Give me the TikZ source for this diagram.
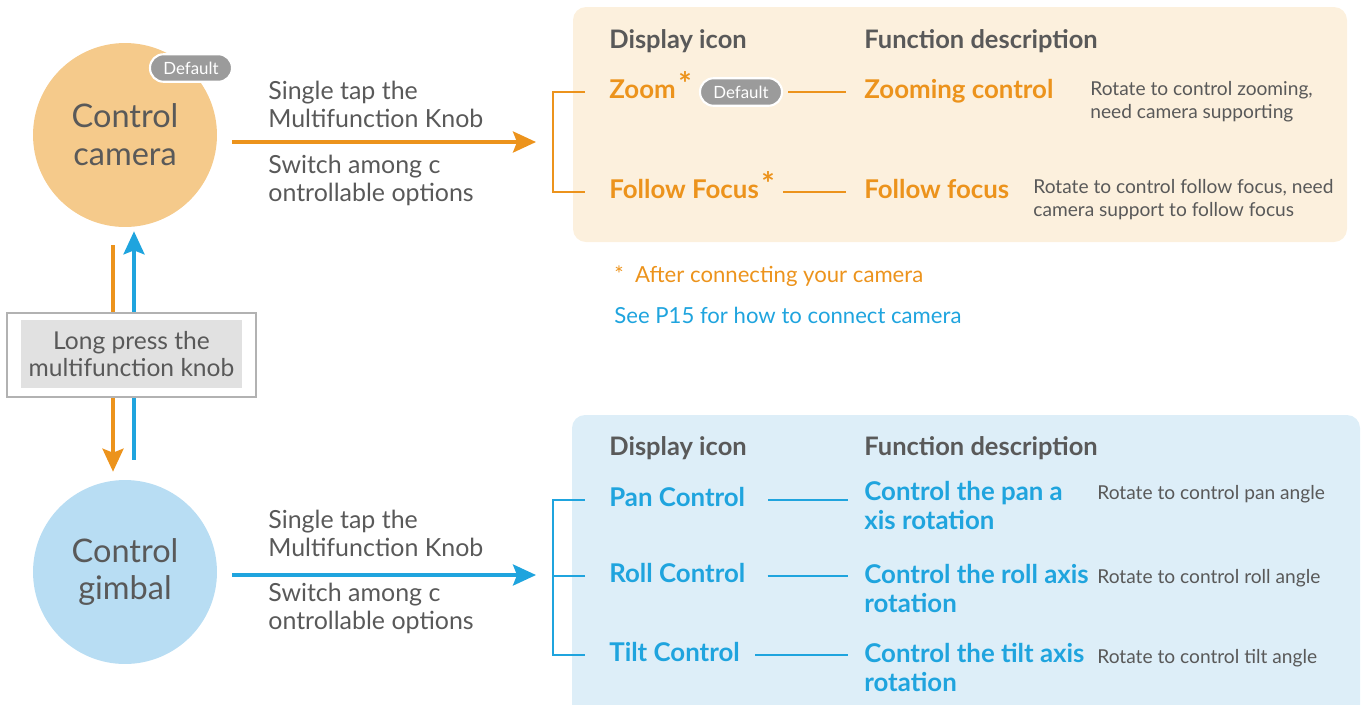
\documentclass[tikz,border=0pt]{standalone}
\usepackage{fontspec}
\setmainfont{Lato}
\usetikzlibrary{arrows.meta, positioning, calc}
\definecolor{KnobOrange}{HTML}{EC931C}
\definecolor{KnobBlue}{HTML}{1FA4DE}
\definecolor{CamFill}{HTML}{F5CA8B}
\definecolor{GimFill}{HTML}{B8DDF3}
\definecolor{CamPanel}{HTML}{FCF0DD}
\definecolor{GimPanel}{HTML}{DDEEF8}
\definecolor{TextGray}{HTML}{595959}
\definecolor{BadgeGray}{HTML}{9B9B9B}
\definecolor{PressGray}{HTML}{E1E1E1}
\definecolor{FrameGray}{HTML}{B2B2B2}

\tikzset{
  modecircle/.style={circle, minimum size=3.68cm, inner sep=0pt, text=TextGray, align=center,
    font=\fontsize{18.5}{21.5}\selectfont},
  badge/.style={rectangle, rounded corners=0.27cm, fill=BadgeGray, draw=white, line width=1.2pt,
    minimum width=1.64cm, minimum height=0.55cm, inner sep=0pt, text=white,
    font=\fontsize{9.6}{11}\selectfont},
  knobtxt/.style={anchor=west, inner sep=0pt, text=TextGray, align=left,
    font=\fontsize{14.2}{16}\selectfont},
  headtxt/.style={anchor=west, inner sep=0pt, text=TextGray, text height=10pt, text depth=3pt,
    font=\fontsize{14.5}{16}\selectfont\bfseries},
  itemtxt/.style={anchor=west, inner sep=0pt, align=left, font=\fontsize{14.7}{16.3}\selectfont\bfseries},
  itemone/.style={itemtxt, text height=10pt, text depth=3pt},
  desctxt/.style={anchor=west, inner sep=0pt, text=TextGray, align=left,
    font=\fontsize{10.9}{13}\selectfont},
  startxt/.style={inner sep=0pt, font=\fontsize{18}{18}\selectfont\bfseries},
  notetxt/.style={anchor=west, inner sep=0pt, font=\fontsize{12.6}{14}\selectfont},
  knobarrow/.style={line width=2pt, -{Stealth[length=0.46cm, width=0.42cm, inset=0.08cm]}},
  linkline/.style={line width=0.6pt},
  bracket/.style={line width=1.4pt}
}

\begin{document}
\begin{tikzpicture}[x=0.02cm, y=-0.02cm]
        \useasboundingbox (0,0) rectangle (1361,704);

        % Panels
        \fill [CamPanel, rounded corners=0.26cm] (573,7) rectangle (1347,242);
        \fill [GimPanel, rounded corners=0.26cm] (572,415) rectangle (1360,730);

        % Mode circles
        \node [modecircle, fill=CamFill] (cam) at (125,135) {Control\\camera};
        \node [modecircle, fill=GimFill] (gim) at (125,572) {Control\\gimbal};
        \node [badge] (camdef) at (191,68) {Default};

        % Long press between modes
        \draw [knobarrow, KnobOrange] ($(cam.south)+(-12,18)$) -- ($(gim.north)+(-12,-8)$);
        \draw [knobarrow, KnobBlue] ($(gim.north)+(9,-20)$) -- ($(cam.south)+(9,4)$);
        \node [draw=FrameGray, line width=1.5pt, fill=white, minimum width=4.98cm,
               minimum height=1.68cm] (pressframe) at (131.5,355) {};
        \node [fill=PressGray, minimum width=4.42cm, minimum height=1.36cm, inner sep=0pt,
               text=TextGray, align=center, font=\fontsize{14}{15.8}\selectfont] (press) at (131.5,354)
               {Long press the\\multifunction knob};

        % Single tap arrows
        \coordinate (camout) at (232,142);
        \coordinate (camin) at (536,142);
        \coordinate (gimout) at (232,575);
        \coordinate (gimin) at (536,575);
        \draw [knobarrow, KnobOrange] (camout) -- (camin);
        \draw [knobarrow, KnobBlue] (gimout) -- (gimin);
        \node [knobtxt] (camtap) at (268,104) {Single tap the\\Multifunction Knob};
        \node [knobtxt] (camswitch) at (268,180) {Switch among c\\ontrollable options};
        \node [knobtxt] (gimtap) at (268,533) {Single tap the\\Multifunction Knob};
        \node [knobtxt] (gimswitch) at (268,608) {Switch among c\\ontrollable options};

        % Camera options
        \node [headtxt] (camicon) at (609,42) {Display icon};
        \node [headtxt] (camfunc) at (864,42) {Function description};
        \node [itemone, KnobOrange] (zoom) at (609,92) {Zoom};
        \node [startxt, KnobOrange] (zoomstar) at (685,84) {*};
        \node [badge] (zoomdef) at (741,92) {Default};
        \node [itemone, KnobOrange] (zoomfn) at (864,92) {Zooming control};
        \node [desctxt] (zoomdesc) at (1090,102) {Rotate to control zooming,\\need camera supporting};
        \node [itemone, KnobOrange] (ffocus) at (609,192) {Follow Focus};
        \node [startxt, KnobOrange] (ffstar) at (768,184) {*};
        \node [itemone, KnobOrange] (ffocusfn) at (864,192) {Follow focus};
        \node [desctxt] (ffocusdesc) at (1033,200) {Rotate to control follow focus, need\\camera support to follow focus};
        \draw [linkline, KnobOrange, shorten <=0.1cm, shorten >=0.36cm] (zoomdef.east) -- (zoomdef.east -| zoomfn.west);
        \draw [linkline, KnobOrange, shorten <=0.16cm, shorten >=0.36cm] (ffocus.east -| ffstar.east) -- (ffocus.east -| ffocusfn.west);
        \draw [bracket, KnobOrange] ($(zoom.west)+(-24,0)$) -- ++(-32,0) |- ($(ffocus.west)+(-24,0)$);

        % Notes
        \node [notetxt, KnobOrange] (camnote) at (614,276) {*\ \ After connecting your camera};
        \node [notetxt, KnobBlue] (p15note) at (614,315) {See P15 for how to connect camera};

        % Gimbal options
        \node [headtxt] (gimicon) at (609,449) {Display icon};
        \node [headtxt] (gimfunc) at (864,449) {Function description};
        \node [itemone, KnobBlue] (pan) at (609,500) {Pan Control};
        \node [itemtxt, KnobBlue, anchor=north west] (panfn) at (864,481) {Control the pan a\\xis rotation};
        \node [desctxt] (pandesc) at (1097,494) {Rotate to control pan angle};
        \node [itemone, KnobBlue] (roll) at (609,576) {Roll Control};
        \node [itemtxt, KnobBlue, anchor=north west] (rollfn) at (864,564) {Control the roll axis\\rotation};
        \node [desctxt] (rolldesc) at (1097,578) {Rotate to control roll angle};
        \node [itemone, KnobBlue] (tilt) at (609,655) {Tilt Control};
        \node [itemtxt, KnobBlue, anchor=north west] (tiltfn) at (864,643) {Control the tilt axis\\rotation};
        \node [desctxt] (tiltdesc) at (1097,658) {Rotate to control tilt angle};
        \draw [linkline, KnobBlue, shorten <=0.46cm, shorten >=0.32cm] (pan.east) -- (pan.east -| panfn.west);
        \draw [linkline, KnobBlue, shorten <=0.44cm, shorten >=0.32cm] (roll.east) -- (roll.east -| rollfn.west);
        \draw [linkline, KnobBlue, shorten <=0.3cm, shorten >=0.32cm] (tilt.east) -- (tilt.east -| tiltfn.west);
        \draw [bracket, KnobBlue] ($(pan.west)+(-24,0)$) -- ++(-32,0) |- ($(tilt.west)+(-24,0)$);
        \draw [bracket, KnobBlue] ($(roll.west)+(-24,0)$) -- ++(-32,0);
    \end{tikzpicture}
\end{document}
